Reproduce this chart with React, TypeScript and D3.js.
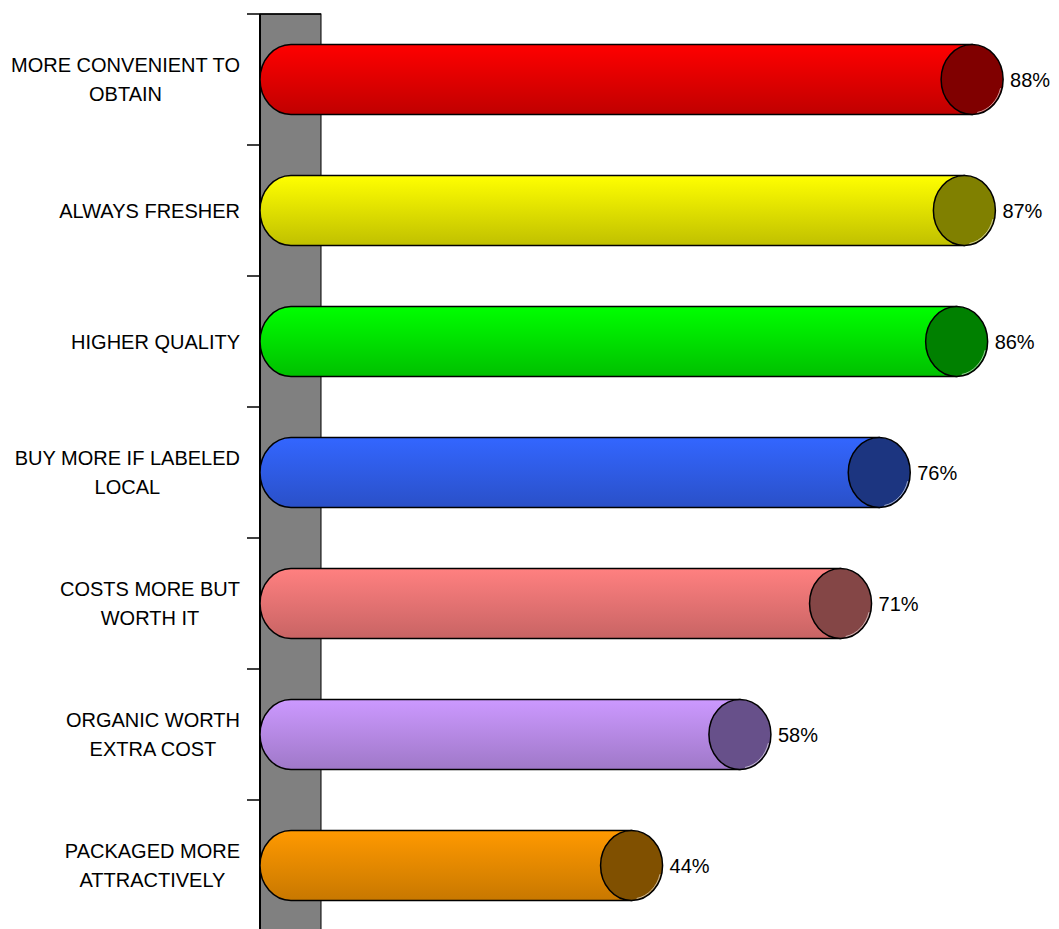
import React, { useEffect, useRef } from "react";
import * as d3 from "d3";

const categories = [
  "MORE CONVENIENT TO\nOBTAIN",
  "ALWAYS FRESHER",
  "HIGHER QUALITY",
  "BUY MORE IF LABELED\nLOCAL",
  "COSTS MORE BUT\nWORTH IT",
  "ORGANIC WORTH\nEXTRA COST",
  "PACKAGED MORE\nATTRACTIVELY",
];
const values = [88, 87, 86, 76, 71, 58, 44];
const bodyTopColors = ["#ff0000", "#ffff00", "#00ff00", "#3366ff", "#ff8080", "#cc99ff", "#ff9900"];
const bodyBottomColors = ["#c00000", "#c0c000", "#00c000", "#2a50c8", "#c86464", "#9f78c8", "#c87800"];
const capColors = ["#800000", "#808000", "#008000", "#1c3580", "#844646", "#67508a", "#805000"];

const W = 1059;
const H = 929;

export default function App() {
  const ref = useRef<SVGSVGElement>(null);

  useEffect(() => {
    const svg = d3.select(ref.current);
    svg.selectAll("*").remove();

    const top = 14;
    const step = 131;
    const x = d3.scaleLinear().domain([0, 100]).range([291, 1065]);
    const y = d3
      .scaleBand<string>()
      .domain(categories)
      .range([top, top + step * categories.length])
      .paddingInner(0.466)
      .paddingOuter(0.233);
    const ry = y.bandwidth() / 2;
    const rx = 31;
    const font = "'Liberation Sans', Arial, sans-serif";

    const defs = svg.append("defs");
    categories.forEach((_, i) => {
      const g = defs
        .append("linearGradient")
        .attr("id", "grad" + i)
        .attr("x1", 0)
        .attr("y1", 0)
        .attr("x2", 0)
        .attr("y2", 1);
      g.append("stop").attr("offset", "0%").attr("stop-color", bodyTopColors[i]);
      g.append("stop").attr("offset", "100%").attr("stop-color", bodyBottomColors[i]);
    });

    // wall
    svg
      .append("rect")
      .attr("x", 260)
      .attr("y", top)
      .attr("width", 61)
      .attr("height", H - top + 10)
      .attr("fill", "#808080")
      .attr("stroke", "#000")
      .attr("stroke-width", 1);
    svg
      .append("line")
      .attr("x1", 260)
      .attr("x2", 260)
      .attr("y1", top)
      .attr("y2", H + 5)
      .attr("stroke", "#000")
      .attr("stroke-width", 2);
    svg
      .append("line")
      .attr("x1", 247)
      .attr("x2", 321)
      .attr("y1", top)
      .attr("y2", top)
      .attr("stroke", "#000")
      .attr("stroke-width", 1.5);
    // ticks
    d3.range(1, categories.length).forEach((k) => {
      const ty = top + step * k;
      svg
        .append("line")
        .attr("x1", 247)
        .attr("x2", 260)
        .attr("y1", ty)
        .attr("y2", ty)
        .attr("stroke", "#000")
        .attr("stroke-width", 1.5);
    });

    // bars
    categories.forEach((c, i) => {
      const y0 = y(c)!;
      const y1 = y0 + y.bandwidth();
      const cy = y0 + ry;
      const xs = x(0);
      const xe = x(values[i]);
      svg
        .append("path")
        .attr(
          "d",
          `M${xe},${y0} L${xs},${y0} A${rx},${ry} 0 0 0 ${xs},${y1} L${xe},${y1} Z`
        )
        .attr("fill", `url(#grad${i})`)
        .attr("stroke", "#000")
        .attr("stroke-width", 1.5);
      svg
        .append("ellipse")
        .attr("cx", xe)
        .attr("cy", cy)
        .attr("rx", rx)
        .attr("ry", ry)
        .attr("fill", capColors[i])
        .attr("stroke", "#000")
        .attr("stroke-width", 1.5);
      // faint highlight on lower-right rim
      const a0 = (15 * Math.PI) / 180;
      const a1 = (80 * Math.PI) / 180;
      svg
        .append("path")
        .attr(
          "d",
          `M${xe + (rx - 1.5) * Math.cos(a0)},${cy + (ry - 1.5) * Math.sin(a0)} A${rx - 1.5},${ry - 1.5} 0 0 1 ${
            xe + (rx - 1.5) * Math.cos(a1)
          },${cy + (ry - 1.5) * Math.sin(a1)}`
        )
        .attr("fill", "none")
        .attr("stroke", "rgba(255,255,255,0.6)")
        .attr("stroke-width", 1);
      svg
        .append("text")
        .attr("x", xe + rx + 7)
        .attr("y", cy + 7.2)
        .attr("font-family", font)
        .attr("font-size", 20)
        .attr("fill", "#000")
        .text(values[i] + "%");
    });

    // category labels
    categories.forEach((c) => {
      const lines = c.split("\n");
      const cy = y(c)! + ry;
      const lh = 29;
      const firstBase = cy + 7.2 - ((lines.length - 1) * lh) / 2;
      const texts = lines.map((ln, j) =>
        svg
          .append("text")
          .attr("y", firstBase + j * lh)
          .attr("font-family", font)
          .attr("font-size", 20)
          .attr("fill", "#000")
          .attr("text-anchor", "middle")
          .text(ln)
      );
      const widths = texts.map((t) => (t.node() as SVGTextElement).getComputedTextLength());
      const maxW = Math.max(...widths);
      texts.forEach((t) => t.attr("x", 240 - maxW / 2));
    });
  }, []);

  return (
    <svg
      ref={ref}
      width={W}
      height={H}
      style={{ position: "absolute", left: 0, top: 0, background: "#fff" }}
    />
  );
}
